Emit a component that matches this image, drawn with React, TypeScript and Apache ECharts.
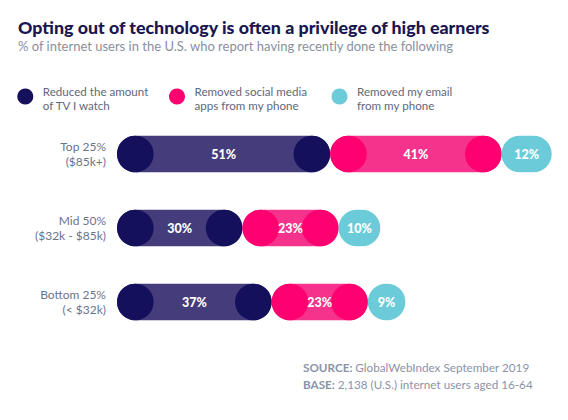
import React, { useEffect, useRef } from "react";
import * as echarts from "echarts";

const categories = ["Top 25%\n($85k+)", "Mid 50%\n($32k - $85k)", "Bottom 25%\n(< $32k)"];
const seriesNames = [
  "Reduced the amount\nof TV I watch",
  "Removed social media\napps from my phone",
  "Removed my email\nfrom my phone",
];
const tvValues = [51, 30, 37];
const socialValues = [41, 23, 23];
const emailValues = [12, 10, 9];

const lightColors = ["#453c7c", "#f5338c", "#6ccbd8"];
const darkColors = ["#15105b", "#ff0070", "#6ccbd8"];

const FONT = "Lato, 'Open Sans', sans-serif";

function buildSeriesData(all: number[][], s: number) {
  return all[s].map((v, i) => {
    let start = 0;
    for (let k = 0; k < s; k++) start += all[k][i];
    return [start, start + v, i, v];
  });
}

export default function App() {
  const ref = useRef<HTMLDivElement>(null);
  useEffect(() => {
    if (!ref.current) return;
    const chart = echarts.init(ref.current, undefined, { renderer: "svg" });
    const all = [tvValues, socialValues, emailValues];
    const barH = 36.6;
    const series = all.map((_, s) => ({
      type: "custom",
      name: seriesNames[s],
      encode: { x: [0, 1], y: 2 },
      data: buildSeriesData(all, s),
      renderItem: (params: any, api: any) => {
        const start = api.value(0);
        const end = api.value(1);
        const cat = api.value(2);
        const v = api.value(3);
        const p0 = api.coord([start, cat]);
        const p1 = api.coord([end, cat]);
        const x0 = p0[0];
        const x1 = p1[0];
        const cy = p0[1];
        const w = x1 - x0;
        const r = Math.min(barH / 2, w / 2);
        const children: any[] = [
          {
            type: "rect",
            shape: { x: x0, y: cy - barH / 2, width: w, height: barH, r },
            style: { fill: lightColors[s] },
          },
        ];
        if (darkColors[s] !== lightColors[s]) {
          children.push({
            type: "circle",
            shape: { cx: x0 + r, cy, r },
            style: { fill: darkColors[s] },
          });
          children.push({
            type: "circle",
            shape: { cx: x1 - r, cy, r },
            style: { fill: darkColors[s] },
          });
        }
        children.push({
          type: "text",
          x: (x0 + x1) / 2,
          y: cy,
          style: {
            text: v + "%",
            fill: "#ffffff",
            font: "900 12.5px " + FONT,
            align: "center",
            verticalAlign: "middle",
          },
        });
        return { type: "group", children };
      },
    }));

    const legendX = [17.3, 169, 331.5];
    const legendGraphics: any[] = [];
    seriesNames.forEach((name, i) => {
      legendGraphics.push({
        type: "circle",
        shape: { cx: legendX[i] + 8, cy: 96.5, r: 8 },
        style: { fill: darkColors[i] },
      });
      legendGraphics.push({
        type: "text",
        x: legendX[i] + 25.5,
        y: 98.5,
        style: {
          text: name,
          fill: "#626779",
          font: "11.6px " + FONT,
          lineHeight: 13.5,
          align: "left",
          verticalAlign: "middle",
        },
      });
    });

    const boldRich = { b: { fontWeight: "bold", fill: "#8a93a8", fontSize: 11.7, fontFamily: FONT } };

    chart.setOption({
      animation: false,
      grid: { left: 117, top: 117, width: 418, height: 222, containLabel: false },
      xAxis: { type: "value", min: 0, max: 100, show: false },
      yAxis: {
        type: "category",
        data: categories,
        inverse: true,
        axisLine: { show: false },
        axisTick: { show: false },
        splitLine: { show: false },
        axisLabel: {
          color: "#6b7388",
          fontSize: 12,
          fontFamily: FONT,
          lineHeight: 15,
          margin: 11,
          align: "right",
        },
      },
      series,
      graphic: [
        {
          type: "text",
          x: 18,
          y: 27,
          style: {
            text: "Opting out of technology is often a privilege of high earners",
            fill: "#1b1650",
            font: "900 17.8px " + FONT,
            verticalAlign: "middle",
          },
        },
        {
          type: "text",
          x: 18,
          y: 46,
          style: {
            text: "% of internet users in the U.S. who report having recently done the following",
            fill: "#8a8f9e",
            font: "13px " + FONT,
            verticalAlign: "middle",
          },
        },
        ...legendGraphics,
        {
          type: "text",
          x: 303,
          y: 367,
          style: {
            text: "{b|SOURCE:} GlobalWebIndex September 2019",
            fill: "#8a93a8",
            font: "11.7px " + FONT,
            verticalAlign: "middle",
            rich: boldRich,
          },
        },
        {
          type: "text",
          x: 303,
          y: 384,
          style: {
            text: "{b|BASE:} 2,138 (U.S.) internet users aged 16-64",
            fill: "#8a93a8",
            font: "11.7px " + FONT,
            verticalAlign: "middle",
            rich: boldRich,
          },
        },
      ],
    });
    return () => chart.dispose();
  }, []);
  return (
    <div
      ref={ref}
      style={{ position: "fixed", left: 0, top: 0, width: 568, height: 420, background: "#ffffff" }}
    />
  );
}
